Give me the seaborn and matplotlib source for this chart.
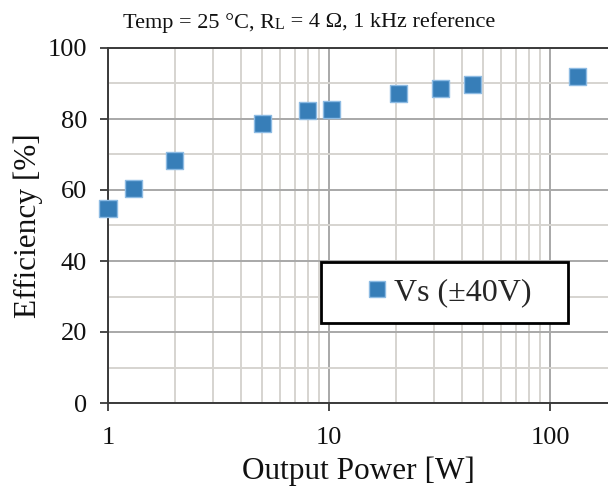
import matplotlib
matplotlib.use("Agg")
import numpy as np
import pandas as pd
import seaborn as sns
import matplotlib.pyplot as plt
from matplotlib.ticker import LogLocator, NullFormatter, MultipleLocator, FixedLocator

# ---- data ----
power_w = [1.0, 1.3, 2.0, 5.0, 8.0, 10.25, 20.6, 31.9, 44.8, 132.8]
efficiency_pct = [54.8, 60.3, 68.3, 78.8, 82.3, 82.8, 87.1, 88.6, 89.6, 92.0]
series_name = "Vs (\u00b140V)"
x_ticks = [1, 10, 100]
x_tick_labels = ["1", "10", "100"]
y_ticks = [0, 20, 40, 60, 80, 100]

sns.set_theme(style="white")
plt.rcParams["font.family"] = ["Liberation Serif", "DejaVu Serif"]

W, H = 608, 486
fig = plt.figure(figsize=(W / 100, H / 100), dpi=100)
ax = fig.add_axes([108 / W, 83 / H, 500 / W, 355 / H])

df = pd.DataFrame({"power": power_w, "eff": efficiency_pct, "series": series_name})
sns.scatterplot(data=df, x="power", y="eff", hue="series", palette=["#377EB8"],
                marker="s", s=150, edgecolor="#8DBBE3", linewidth=1.0,
                ax=ax, zorder=5, clip_on=False)

ax.set_xscale("log")
ax.set_xlim(1, 10 ** (500 / 221))
ax.set_ylim(0, 100)
ax.xaxis.set_major_locator(FixedLocator(x_ticks))
ax.set_xticklabels(x_tick_labels)
ax.xaxis.set_minor_locator(LogLocator(base=10, subs=np.arange(2, 10)))
ax.xaxis.set_minor_formatter(NullFormatter())
ax.set_yticks(y_ticks)
ax.yaxis.set_minor_locator(MultipleLocator(10))

ax.grid(which="major", color="#A8A8A8", lw=1.4, zorder=0)
ax.grid(which="minor", color="#D6D4D0", lw=1.4, zorder=0)
ax.set_axisbelow(True)

for side in ["left", "bottom", "top"]:
    ax.spines[side].set_visible(True)
    ax.spines[side].set_color("#3a3a3a")
    ax.spines[side].set_linewidth(1.4)
ax.spines["right"].set_visible(False)

ax.tick_params(which="major", direction="out", length=6, width=1.3, color="#3a3a3a",
               labelsize=19, labelcolor="#111111", left=True, bottom=True)
ax.tick_params(axis="y", pad=9)
ax.tick_params(axis="x", pad=11)
ax.tick_params(which="minor", length=0)

ax.set_xlabel("Output Power [W]", fontsize=22.5, color="#111111", labelpad=6)
ax.set_ylabel("Efficiency [%]", fontsize=22.5, color="#111111", labelpad=3)

# legend
old = ax.get_legend()
handles = old.legend_handles
labels = [t.get_text() for t in old.texts]
old.remove()
leg = ax.legend(handles, labels, loc="upper left",
                bbox_to_anchor=(321 / W, 1 - 262 / H, 247 / W, 0),
                bbox_transform=fig.transFigure, mode="expand", borderaxespad=0,
                fontsize=23, borderpad=0.5, handlelength=2.5, handletextpad=-0.7,
                fancybox=False, framealpha=1, edgecolor="black")
leg.get_frame().set_linewidth(2.0)
for h in leg.legend_handles:
    h.set_markersize(12)

# title with small "L" after R
tsize = 16
t1 = fig.text(123 / W, 1 - 33 / H, "Temp = 25 \u00b0C, R", fontsize=tsize,
              ha="left", va="bottom", color="#111111")
t2 = ax.annotate("L", xy=(1, 0), xycoords=t1, fontsize=tsize * 0.72,
                 ha="left", va="bottom", color="#111111", annotation_clip=False)
t3 = ax.annotate(" = 4 \u03a9, 1 kHz reference", xy=(1, 0), xycoords=t2,
                 fontsize=tsize, ha="left", va="bottom", color="#111111",
                 annotation_clip=False)

fig.savefig("out.png", dpi=100)
